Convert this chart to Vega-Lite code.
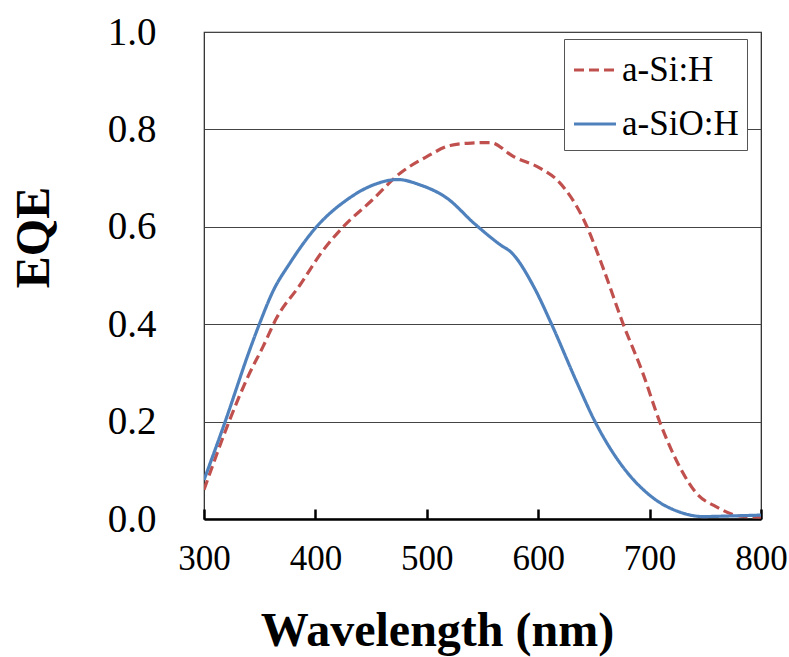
{
  "$schema": "https://vega.github.io/schema/vega-lite/v6.json",
  "autosize": "none",
  "width": 557,
  "height": 487,
  "padding": {"left": 204, "top": 32, "right": 28, "bottom": 138},
  "background": "white",
  "config": {
    "font": "Liberation Serif",
    "view": {"stroke": "#222", "strokeWidth": 1.2}
  },
  "data": {
    "values": [
      {"wl": 300, "eqe": 0.06, "s": "a-Si:H"},
      {"wl": 323, "eqe": 0.203, "s": "a-Si:H"},
      {"wl": 340, "eqe": 0.295, "s": "a-Si:H"},
      {"wl": 353, "eqe": 0.354, "s": "a-Si:H"},
      {"wl": 365, "eqe": 0.412, "s": "a-Si:H"},
      {"wl": 386, "eqe": 0.480, "s": "a-Si:H"},
      {"wl": 407, "eqe": 0.552, "s": "a-Si:H"},
      {"wl": 425, "eqe": 0.600, "s": "a-Si:H"},
      {"wl": 451, "eqe": 0.655, "s": "a-Si:H"},
      {"wl": 476, "eqe": 0.710, "s": "a-Si:H"},
      {"wl": 500, "eqe": 0.744, "s": "a-Si:H"},
      {"wl": 521, "eqe": 0.767, "s": "a-Si:H"},
      {"wl": 540, "eqe": 0.772, "s": "a-Si:H"},
      {"wl": 557, "eqe": 0.773, "s": "a-Si:H"},
      {"wl": 578, "eqe": 0.744, "s": "a-Si:H"},
      {"wl": 602, "eqe": 0.720, "s": "a-Si:H"},
      {"wl": 617, "eqe": 0.696, "s": "a-Si:H"},
      {"wl": 641, "eqe": 0.614, "s": "a-Si:H"},
      {"wl": 659, "eqe": 0.511, "s": "a-Si:H"},
      {"wl": 676, "eqe": 0.402, "s": "a-Si:H"},
      {"wl": 694, "eqe": 0.299, "s": "a-Si:H"},
      {"wl": 709, "eqe": 0.200, "s": "a-Si:H"},
      {"wl": 727, "eqe": 0.107, "s": "a-Si:H"},
      {"wl": 742, "eqe": 0.053, "s": "a-Si:H"},
      {"wl": 760, "eqe": 0.025, "s": "a-Si:H"},
      {"wl": 781, "eqe": 0.006, "s": "a-Si:H"},
      {"wl": 800, "eqe": 0.004, "s": "a-Si:H"},
      {"wl": 300, "eqe": 0.080, "s": "a-SiO:H"},
      {"wl": 319, "eqe": 0.200, "s": "a-SiO:H"},
      {"wl": 341, "eqe": 0.347, "s": "a-SiO:H"},
      {"wl": 350, "eqe": 0.402, "s": "a-SiO:H"},
      {"wl": 362, "eqe": 0.468, "s": "a-SiO:H"},
      {"wl": 377, "eqe": 0.525, "s": "a-SiO:H"},
      {"wl": 401, "eqe": 0.600, "s": "a-SiO:H"},
      {"wl": 428, "eqe": 0.655, "s": "a-SiO:H"},
      {"wl": 452, "eqe": 0.686, "s": "a-SiO:H"},
      {"wl": 474, "eqe": 0.697, "s": "a-SiO:H"},
      {"wl": 494, "eqe": 0.686, "s": "a-SiO:H"},
      {"wl": 518, "eqe": 0.659, "s": "a-SiO:H"},
      {"wl": 543, "eqe": 0.606, "s": "a-SiO:H"},
      {"wl": 566, "eqe": 0.563, "s": "a-SiO:H"},
      {"wl": 576, "eqe": 0.547, "s": "a-SiO:H"},
      {"wl": 596, "eqe": 0.477, "s": "a-SiO:H"},
      {"wl": 612, "eqe": 0.400, "s": "a-SiO:H"},
      {"wl": 635, "eqe": 0.279, "s": "a-SiO:H"},
      {"wl": 651, "eqe": 0.200, "s": "a-SiO:H"},
      {"wl": 676, "eqe": 0.107, "s": "a-SiO:H"},
      {"wl": 700, "eqe": 0.049, "s": "a-SiO:H"},
      {"wl": 730, "eqe": 0.012, "s": "a-SiO:H"},
      {"wl": 748, "eqe": 0.005, "s": "a-SiO:H"},
      {"wl": 769, "eqe": 0.006, "s": "a-SiO:H"},
      {"wl": 800, "eqe": 0.008, "s": "a-SiO:H"}
    ]
  },
  "mark": {"type": "line", "strokeWidth": 3.2, "interpolate": "monotone", "clip": true},
  "encoding": {
    "x": {
      "field": "wl", "type": "quantitative",
      "scale": {"domain": [300, 800], "nice": false},
      "axis": {
        "values": [300, 400, 500, 600, 700, 800],
        "grid": false,
        "domainColor": "black", "domainWidth": 2.5,
        "tickColor": "black", "tickWidth": 2.5, "tickSize": -10,
        "labelFont": "Liberation Serif",
        "labelFontSize": 35, "labelColor": "black", "labelPadding": 32,
        "labelFlush": false,
        "title": "Wavelength (nm)",
        "titleFont": "Liberation Serif",
        "titleFontSize": 48, "titleFontWeight": "bold", "titleColor": "black",
        "titleX": 233, "titleY": 126, "titleBaseline": "alphabetic", "titleAnchor": "middle", "titleAlign": "center"
      }
    },
    "y": {
      "field": "eqe", "type": "quantitative",
      "scale": {"domain": [0, 1], "nice": false},
      "axis": {
        "values": [0, 0.2, 0.4, 0.6, 0.8, 1.0],
        "format": ".1f",
        "grid": true, "gridColor": "#444", "gridWidth": 1.2,
        "domain": false, "ticks": false,
        "labelFont": "Liberation Serif",
        "labelFontSize": 39, "labelColor": "black", "labelPadding": 48,
        "labelFlush": false,
        "title": "EQE",
        "titleFont": "Liberation Serif",
        "titleFontSize": 48, "titleFontWeight": "bold", "titleColor": "black",
        "titleX": -170, "titleY": 205, "titleAngle": -90, "titleBaseline": "middle", "titleAlign": "center"
      }
    },
    "color": {
      "field": "s", "type": "nominal",
      "scale": {"domain": ["a-Si:H", "a-SiO:H"], "range": ["#C0504D", "#4F81BD"]},
      "legend": {
        "title": null,
        "orient": "none", "legendX": 360, "legendY": 7,
        "strokeColor": "#555", "fillColor": "white", "padding": 8,
        "symbolType": "stroke", "symbolSize": 1764, "symbolStrokeWidth": 3.2,
        "labelFont": "Liberation Serif",
        "labelFontSize": 35, "labelColor": "black", "labelOffset": 4,
        "rowPadding": 13, "labelLimit": 300
      }
    },
    "strokeDash": {
      "field": "s", "type": "nominal",
      "scale": {"domain": ["a-Si:H", "a-SiO:H"], "range": [[10, 5], [1, 0]]},
      "legend": null
    }
  }
}
